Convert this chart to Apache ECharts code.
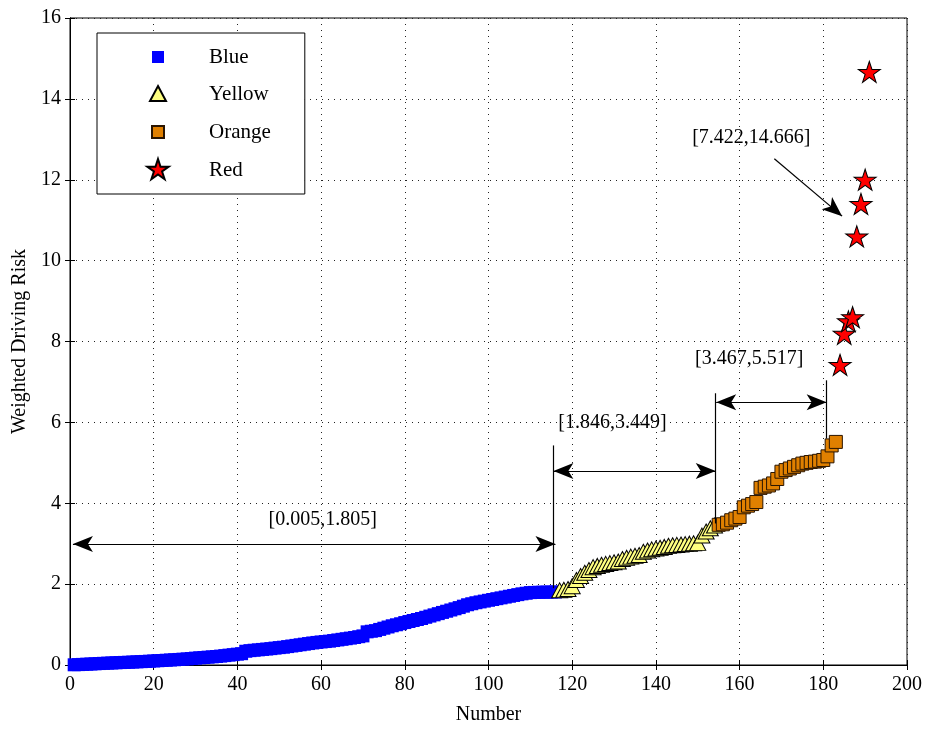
<!DOCTYPE html>
<html><head><meta charset="utf-8">
<script src="https://cdn.jsdelivr.net/npm/echarts@6/dist/echarts.min.js"></script>
<style>html,body{margin:0;padding:0;background:#fff}#c{width:931px;height:730px}</style>
</head><body><div id="c"></div>
<script>
// ---- data ----
const xTickValues = [0,20,40,60,80,100,120,140,160,180,200];
const yTickValues = [0,2,4,6,8,10,12,14,16];
const seriesNames = ['Blue','Yellow','Orange','Red'];
const blueStart = 1;
const blueValues = [
 0.005,0.010,0.015,0.020,0.025,0.030,0.036,0.041,0.046,0.050,
 0.055,0.060,0.064,0.068,0.073,0.078,0.083,0.088,0.094,0.100,
 0.106,0.112,0.118,0.124,0.130,0.137,0.144,0.151,0.160,0.170,
 0.178,0.186,0.194,0.202,0.210,0.220,0.232,0.244,0.256,0.268,
 0.280,0.340,0.355,0.365,0.375,0.385,0.395,0.405,0.418,0.430,
 0.440,0.455,0.470,0.485,0.500,0.515,0.530,0.545,0.558,0.570,
 0.580,0.590,0.605,0.620,0.635,0.650,0.665,0.680,0.700,0.720,
 0.820,0.835,0.850,0.880,0.910,0.940,0.970,0.995,1.020,1.050,
 1.075,1.100,1.125,1.150,1.180,1.210,1.240,1.270,1.300,1.330,
 1.360,1.390,1.420,1.455,1.490,1.515,1.540,1.560,1.580,1.600,
 1.620,1.640,1.660,1.680,1.700,1.720,1.740,1.760,1.775,1.790,
 1.795,1.798,1.800,1.802,1.804,1.805
];
const yellowStart = 117;
const yellowValues = [
 1.846,1.86,1.88,1.95,2.10,2.20,2.28,2.35,2.42,2.45,
 2.48,2.50,2.52,2.54,2.56,2.62,2.65,2.68,2.70,2.72,
 2.80,2.83,2.86,2.88,2.90,2.92,2.95,2.96,2.97,2.98,
 2.99,3.00,3.01,3.02,3.20,3.30,3.38,3.449
];
const orangeStart = 155;
const orangeValues = [
 3.467,3.48,3.52,3.58,3.62,3.66,3.90,3.94,3.98,4.03,
 4.38,4.41,4.44,4.49,4.60,4.78,4.82,4.86,4.90,4.94,
 4.98,5.00,5.02,5.03,5.05,5.07,5.16,5.43,5.517
];
const redStart = 184;
const redValues = [7.422,8.19,8.50,8.60,10.60,11.40,12.00,14.666];

// annotations (data units)
const rangeLabels = ['[0.005,1.805]','[1.846,3.449]','[3.467,5.517]','[7.422,14.666]'];
const rangeLabelAt = [[60.4,3.58],[129.6,6.0],[162.3,7.58],[162.8,13.05]];
const rangeArrows = [[[0.7,2.99],[116,2.99]],[[115.5,4.8],[154.3,4.8]],[[154.4,6.5],[180.8,6.5]]];
const guideLines = [[[115.4,5.43],[115.4,1.9]],[[154.3,6.72],[154.3,3.5]],[[180.8,7.04],[180.8,5.6]]];
const pointerArrow = [[168.3,12.52],[184.5,11.1]];

// ---- build ----
function pts(start, vals){ return vals.map((v,i)=>[start+i, v]); }
const FONT = 'Liberation Serif';
const STAR = 'path://M50,4 L60.6,36.3 L94.5,36.3 L67,56.2 L77.5,88.5 L50,68.5 L22.5,88.5 L33,56.2 L5.5,36.3 L39.4,36.3Z';
const legendIcons = [
 'path://M0,0M24,24M6,6L18,6L18,18L6,18Z',
 'path://M0,0M24,24M12,4L20,19L4,19Z',
 'path://M0,0M24,24M6,6L18,6L18,18L6,18Z',
 'path://M0,0M100,100M50,4 L60.6,36.3 L94.5,36.3 L67,56.2 L77.5,88.5 L50,68.5 L22.5,88.5 L33,56.2 L5.5,36.3 L39.4,36.3Z'
];
const axisCommon = {
  axisLine:{show:true,lineStyle:{color:'#000',width:1}},
  axisTick:{show:true,inside:true,length:5,lineStyle:{color:'#000'}},
};
const lineData = [];
rangeArrows.forEach(a=>lineData.push([{coord:a[0],symbol:'arrow',symbolSize:[12,20]},{coord:a[1],symbol:'arrow',symbolSize:[12,20]}]));
guideLines.forEach(a=>lineData.push([{coord:a[0],symbol:'none'},{coord:a[1],symbol:'none'}]));
lineData.push([{coord:pointerArrow[0],symbol:'none'},{coord:pointerArrow[1],symbol:'arrow',symbolSize:[12,20]}]);

const option = {
  animation:false,
  backgroundColor:'#fff',
  textStyle:{fontFamily:FONT},
  grid:{left:70,right:24,top:18,bottom:65,show:true,borderColor:'#000',borderWidth:1},
  legend:{
    left:97, top:33, orient:'vertical',
    data: seriesNames.map((n,i)=>({name:n, icon:legendIcons[i]})),
    itemWidth:24, itemHeight:24, itemGap:12,
    padding:[12,34,11,48],
    borderColor:'#000', borderWidth:1, backgroundColor:'#fff',
    textStyle:{fontFamily:FONT,fontSize:21,color:'#000',padding:[0,0,0,34]},
    selectedMode:false
  },
  xAxis:[
    Object.assign({type:'value',min:0,max:200,interval:20,position:'bottom',
      name:'Number',nameLocation:'middle',nameGap:40,
      nameTextStyle:{fontFamily:FONT,fontSize:20,color:'#000'},
      axisLabel:{fontFamily:FONT,fontSize:20,color:'#000',margin:10,formatter:v=>xTickValues.includes(v)?String(v):''},
      splitLine:{show:true,lineStyle:{color:'#222',width:1,type:[1,5]}}},axisCommon),
    Object.assign({type:'value',min:0,max:200,interval:20,position:'top',
      axisLabel:{show:false},splitLine:{show:false}},axisCommon)
  ],
  yAxis:[
    Object.assign({type:'value',min:0,max:16,interval:2,position:'left',
      name:'Weighted Driving Risk',nameLocation:'middle',nameGap:36,
      nameTextStyle:{fontFamily:FONT,fontSize:20,color:'#000'},
      axisLabel:{fontFamily:FONT,fontSize:20,color:'#000',margin:9,formatter:v=>yTickValues.includes(v)?String(v):''},
      splitLine:{show:true,lineStyle:{color:'#222',width:1,type:[1,5]}}},axisCommon),
    Object.assign({type:'value',min:0,max:16,interval:2,position:'right',
      axisLabel:{show:false},splitLine:{show:false}},axisCommon)
  ],
  series:[
    {name:'Blue',type:'scatter',data:pts(blueStart,blueValues),symbol:'rect',symbolSize:13,
      itemStyle:{color:'#0000ff',borderWidth:0,opacity:1},silent:true,z:2},
    {name:'Yellow',type:'scatter',data:pts(yellowStart,yellowValues),symbol:'triangle',symbolSize:[16,15],
      itemStyle:{color:'#ffff80',borderColor:'#000',borderWidth:1,opacity:1},silent:true,z:2},
    {name:'Orange',type:'scatter',data:pts(orangeStart,orangeValues),symbol:'rect',symbolSize:13,
      itemStyle:{color:'#e08000',borderColor:'#2a1500',borderWidth:1,opacity:1},silent:true,z:2},
    {name:'Red',type:'scatter',data:pts(redStart,redValues),symbol:STAR,symbolSize:[22,21],
      itemStyle:{color:'#ff0000',borderColor:'#000',borderWidth:1,opacity:1},silent:true,z:3},
    {name:'_annot',type:'line',silent:true,z:4,data:[],
      markPoint:{silent:true,animation:false,symbol:'rect',symbolSize:1,
        itemStyle:{color:'rgba(255,255,255,0)'},
        label:{show:true,position:'inside',fontFamily:FONT,fontSize:20,color:'#000',
          textBorderWidth:0,textBorderColor:'rgba(0,0,0,0)'},
        data: rangeLabels.map((t,i)=>({name:t,coord:rangeLabelAt[i],label:{formatter:t}}))
      },
      markLine:{silent:true,animation:false,
        lineStyle:{color:'#000',width:1.2,type:'solid'},
        label:{show:false},
        emphasis:{disabled:true},
        data:lineData}
    }
  ]
};
const chart = echarts.init(document.getElementById('c'),null,{renderer:'canvas'});
chart.setOption(option);
</script></body></html>
